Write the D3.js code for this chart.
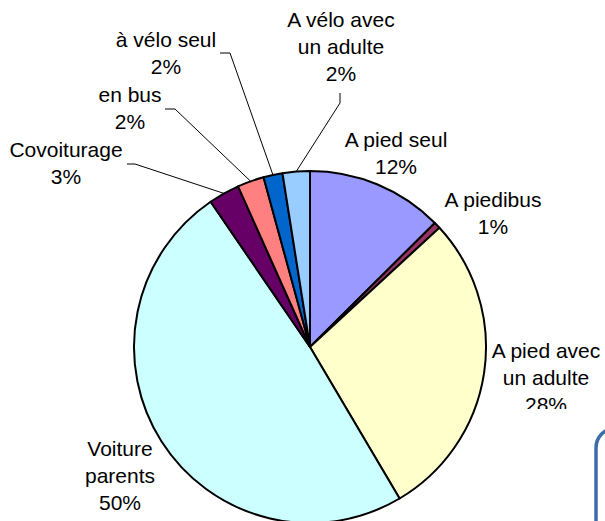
<!DOCTYPE html>
<html lang="fr">
<head>
    <meta charset="UTF-8">
    <title>Pie</title>
    <script src="https://d3js.org/d3.v7.min.js"></script>
    <style>
        body {margin:0;background:#fff;}
        text {font-family:"Liberation Sans",Arial,sans-serif;font-size:21px;fill:#000;}
    </style>
</head>
<body>
<script>
// categories, clockwise from 12 o'clock
var categories = ['A pied seul','A piedibus','A pied avec un adulte','Voiture parents',
    'Covoiturage','en bus','à vélo seul','A vélo avec un adulte'];
// share of each slice
var values = [12.55,0.6,28.35,48.95,2.85,2.45,1.75,2.5];
// percentages as printed on the chart
var pctLabels = ['12%','1%','28%','50%','3%','2%','2%','2%'];
// label text split in lines
var labelLines = [['A pied seul'],['A piedibus'],['A pied avec','un adulte'],['Voiture','parents'],
    ['Covoiturage'],['en bus'],['à vélo seul'],['A vélo avec','un adulte']];
var colors = ['#9999ff','#993366','#ffffcc','#ccffff','#660066','#ff8080','#0066cc','#99ccff'];

var width = 605;
var height = 521;
var cx = 310, cy = 347, radius = 176;
var lineH = 27;

// label anchor (centre x, first baseline y)
var labelPos = [[396,147],[493,207],[546,358],[120,456],[66,157],[130,102],[166,47],[341,27]];
// leader line start (two points), null = no leader
var leaders = [null,null,null,null,
    [[127,164],[135,164]],
    [[165,109],[175,109]],
    [[220,53],[230,53]],
    [[340,93],[340,103]]];

var svg = d3.select('body')
    .append('svg')
    .attr('width',width)
    .attr('height',height);

var defs = svg.append('defs');
defs.append('clipPath')
    .attr('id','cut28')
    .append('rect')
    .attr('x',0).attr('y',0)
    .attr('width',width).attr('height',409);

var pie = d3.pie()
    .sort(null)
    .value(function (d) { return d; });

var arcs = pie(values);

var arc = d3.arc()
    .innerRadius(0)
    .outerRadius(radius);

var g = svg.append('g')
    .attr('transform','translate('+cx+','+cy+')');

//slices
g.selectAll('path')
    .data(arcs)
    .enter()
    .append('path')
    .attr('d',arc)
    .attr('fill',function (d,i) { return colors[i]; })
    .attr('stroke','#000')
    .attr('stroke-width',2)
    .attr('stroke-linejoin','round');

//leader lines
svg.selectAll('.leader')
    .data(arcs)
    .enter()
    .filter(function (d,i) { return leaders[i] != null; })
    .append('polyline')
    .attr('class','leader')
    .attr('fill','none')
    .attr('stroke','#000')
    .attr('stroke-width',1)
    .attr('points',function (d) {
        var i = d.index;
        var a = (d.startAngle+d.endAngle)/2;
        var ex = cx + radius*Math.sin(a);
        var ey = cy - radius*Math.cos(a);
        var p = leaders[i];
        return p[0].join(',')+' '+p[1].join(',')+' '+ex+','+ey;
    });

//labels
var labels = svg.selectAll('.lab')
    .data(categories)
    .enter()
    .append('text')
    .attr('class','lab')
    .attr('text-anchor','middle')
    .attr('clip-path',function (d,i) { return i == 2 ? 'url(#cut28)' : null; });

labels.each(function (d,i) {
    var t = d3.select(this);
    var lines = labelLines[i].concat([pctLabels[i]]);
    lines.forEach(function (s,j) {
        t.append('tspan')
            .attr('x',labelPos[i][0])
            .attr('y',labelPos[i][1]+j*lineH)
            .text(s);
    });
});

//blue box corner at bottom right
svg.append('rect')
    .attr('x',596)
    .attr('y',428)
    .attr('width',120)
    .attr('height',200)
    .attr('rx',20)
    .attr('fill','#fff')
    .attr('stroke','#3c6da8')
    .attr('stroke-width',3.5);
</script>
</body>
</html>
